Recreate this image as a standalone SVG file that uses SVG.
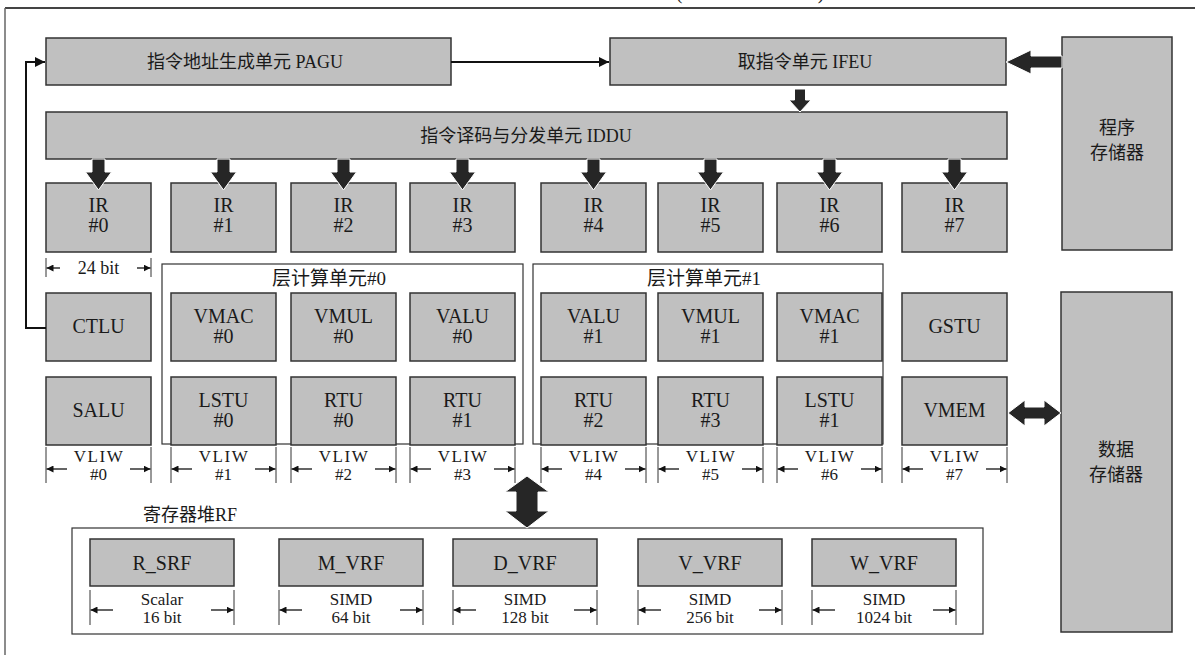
<svg xmlns="http://www.w3.org/2000/svg" width="1195" height="655" viewBox="0 0 1195 655">
<style>
text{font-family:"Liberation Serif","Noto Sans CJK SC",serif;fill:#1a1a1a;text-anchor:middle}
.box{fill:#c0c0c0;stroke:#333;stroke-width:1.5}
.frame{fill:none;stroke:#333;stroke-width:1.2}
.lbl{font-size:20px}
.zh{font-size:18px}
.dim{font-size:17px}
.vl{font-size:17px;letter-spacing:1.5px}
.tick{stroke:#333;stroke-width:1}
.da{stroke:#111;stroke-width:1.3;fill:none;marker-end:url(#dh)}
.conn{stroke:#111;stroke-width:2;fill:none}
.thick{fill:#262626;stroke:#fff;stroke-width:1}
</style>
<defs>
<marker id="dh" viewBox="0 0 10 10" refX="10" refY="5" markerWidth="7" markerHeight="7" markerUnits="userSpaceOnUse" orient="auto"><path d="M0,0 L10,5 L0,10 Z" fill="#111"/></marker>
<marker id="ah" viewBox="0 0 10 10" refX="10" refY="5" markerWidth="10" markerHeight="11" markerUnits="userSpaceOnUse" orient="auto"><path d="M0,0 L10,5 L0,10 Z" fill="#111"/></marker>
<path id="down" d="M-6.5,0 H6.5 V13 H13 L0,31 L-13,13 H-6.5 Z"/>
</defs>

<!-- outer frame -->
<g id="page">
<line x1="5" y1="8" x2="1195" y2="8" stroke="#444" stroke-width="2"/>
<line x1="5" y1="8" x2="5" y2="655" stroke="#666" stroke-width="1.5"/>
<text x="679" y="-1" style="font-size:20px">(</text>
<text x="821" y="-1" style="font-size:20px">)</text>
</g>

<g id="PAGU"><rect class="box" x="46" y="38" width="405" height="47"/><text class="zh" x="245" y="68">指令地址生成单元 PAGU</text></g>
<g id="IFEU"><rect class="box" x="610" y="38" width="396" height="47"/><text class="zh" x="805" y="68">取指令单元 IFEU</text></g>
<g id="IDDU"><rect class="box" x="46" y="112" width="961" height="47"/><text class="zh" x="526" y="142">指令译码与分发单元 IDDU</text></g>
<g id="PM"><rect class="box" x="1062" y="37" width="110" height="213"/><text class="zh" x="1117" y="134">程序</text><text class="zh" x="1117" y="159">存储器</text></g>
<g id="DM"><rect class="box" x="1061" y="292" width="111" height="340"/><text class="zh" x="1116" y="456">数据</text><text class="zh" x="1116" y="481">存储器</text></g>

<!-- IR row -->
<g id="IR0"><rect class="box" x="46" y="183" width="105" height="69"/><text class="lbl" x="98.5" y="212">IR</text><text class="lbl" x="98.5" y="232">#0</text></g>
<g id="IR1"><rect class="box" x="171" y="183" width="105" height="69"/><text class="lbl" x="223.5" y="212">IR</text><text class="lbl" x="223.5" y="232">#1</text></g>
<g id="IR2"><rect class="box" x="291" y="183" width="105" height="69"/><text class="lbl" x="343.5" y="212">IR</text><text class="lbl" x="343.5" y="232">#2</text></g>
<g id="IR3"><rect class="box" x="410" y="183" width="105" height="69"/><text class="lbl" x="462.5" y="212">IR</text><text class="lbl" x="462.5" y="232">#3</text></g>
<g id="IR4"><rect class="box" x="541" y="183" width="105" height="69"/><text class="lbl" x="593.5" y="212">IR</text><text class="lbl" x="593.5" y="232">#4</text></g>
<g id="IR5"><rect class="box" x="658" y="183" width="105" height="69"/><text class="lbl" x="710.5" y="212">IR</text><text class="lbl" x="710.5" y="232">#5</text></g>
<g id="IR6"><rect class="box" x="777" y="183" width="105" height="69"/><text class="lbl" x="829.5" y="212">IR</text><text class="lbl" x="829.5" y="232">#6</text></g>
<g id="IR7"><rect class="box" x="902" y="183" width="105" height="69"/><text class="lbl" x="954.5" y="212">IR</text><text class="lbl" x="954.5" y="232">#7</text></g>

<!-- layer frames -->
<g id="layer0"><rect class="frame" x="162" y="264" width="361" height="180"/><text class="zh" style="font-size:19px" x="329" y="285">层计算单元#0</text></g>
<g id="layer1"><rect class="frame" x="533" y="264" width="350" height="180"/><text class="zh" style="font-size:19px" x="704" y="285">层计算单元#1</text></g>

<!-- row 1 -->
<g id="CTLU"><rect class="box" x="46" y="293" width="105" height="68"/><text class="lbl" x="98.5" y="333">CTLU</text></g>
<g id="VMAC0"><rect class="box" x="171" y="293" width="105" height="68"/><text class="lbl" x="223.5" y="323">VMAC</text><text class="lbl" x="223.5" y="343">#0</text></g>
<g id="VMUL0"><rect class="box" x="291" y="293" width="105" height="68"/><text class="lbl" x="343.5" y="323">VMUL</text><text class="lbl" x="343.5" y="343">#0</text></g>
<g id="VALU0"><rect class="box" x="410" y="293" width="105" height="68"/><text class="lbl" x="462.5" y="323">VALU</text><text class="lbl" x="462.5" y="343">#0</text></g>
<g id="VALU1"><rect class="box" x="541" y="293" width="105" height="68"/><text class="lbl" x="593.5" y="323">VALU</text><text class="lbl" x="593.5" y="343">#1</text></g>
<g id="VMUL1"><rect class="box" x="658" y="293" width="105" height="68"/><text class="lbl" x="710.5" y="323">VMUL</text><text class="lbl" x="710.5" y="343">#1</text></g>
<g id="VMAC1"><rect class="box" x="777" y="293" width="105" height="68"/><text class="lbl" x="829.5" y="323">VMAC</text><text class="lbl" x="829.5" y="343">#1</text></g>
<g id="GSTU"><rect class="box" x="902" y="293" width="105" height="68"/><text class="lbl" x="954.5" y="333">GSTU</text></g>

<!-- row 2 -->
<g id="SALU"><rect class="box" x="46" y="377" width="105" height="68"/><text class="lbl" x="98.5" y="417">SALU</text></g>
<g id="LSTU0"><rect class="box" x="171" y="377" width="105" height="68"/><text class="lbl" x="223.5" y="407">LSTU</text><text class="lbl" x="223.5" y="427">#0</text></g>
<g id="RTU0"><rect class="box" x="291" y="377" width="105" height="68"/><text class="lbl" x="343.5" y="407">RTU</text><text class="lbl" x="343.5" y="427">#0</text></g>
<g id="RTU1"><rect class="box" x="410" y="377" width="105" height="68"/><text class="lbl" x="462.5" y="407">RTU</text><text class="lbl" x="462.5" y="427">#1</text></g>
<g id="RTU2"><rect class="box" x="541" y="377" width="105" height="68"/><text class="lbl" x="593.5" y="407">RTU</text><text class="lbl" x="593.5" y="427">#2</text></g>
<g id="RTU3"><rect class="box" x="658" y="377" width="105" height="68"/><text class="lbl" x="710.5" y="407">RTU</text><text class="lbl" x="710.5" y="427">#3</text></g>
<g id="LSTU1"><rect class="box" x="777" y="377" width="105" height="68"/><text class="lbl" x="829.5" y="407">LSTU</text><text class="lbl" x="829.5" y="427">#1</text></g>
<g id="VMEM"><rect class="box" x="902" y="377" width="105" height="68"/><text class="lbl" x="954.5" y="417">VMEM</text></g>

<!-- dimension annotations -->
<g id="dims">
<g id="dim24">
<line class="tick" x1="46" y1="258" x2="46" y2="277"/><line class="tick" x1="151" y1="258" x2="151" y2="277"/>
<line class="da" x1="60" y1="268" x2="46.5" y2="268"/><line class="da" x1="137" y1="268" x2="150.5" y2="268"/>
<text style="font-size:18px" x="98.5" y="274">24 bit</text>
</g>
<g id="vliw">
<path class="tick" d="M46,447V483M151,447V483M171,447V483M276,447V483M291,447V483M396,447V483M410,447V483M515,447V483M541,447V483M646,447V483M658,447V483M763,447V483M777,447V483M882,447V483M902,447V483M1007,447V483"/>
<line class="da" x1="67" y1="469" x2="46.5" y2="469"/><line class="da" x1="130" y1="469" x2="150.5" y2="469"/>
<line class="da" x1="192" y1="469" x2="171.5" y2="469"/><line class="da" x1="255" y1="469" x2="275.5" y2="469"/>
<line class="da" x1="312" y1="469" x2="291.5" y2="469"/><line class="da" x1="375" y1="469" x2="395.5" y2="469"/>
<line class="da" x1="431" y1="469" x2="410.5" y2="469"/><line class="da" x1="494" y1="469" x2="514.5" y2="469"/>
<line class="da" x1="562" y1="469" x2="541.5" y2="469"/><line class="da" x1="625" y1="469" x2="645.5" y2="469"/>
<line class="da" x1="679" y1="469" x2="658.5" y2="469"/><line class="da" x1="742" y1="469" x2="762.5" y2="469"/>
<line class="da" x1="798" y1="469" x2="777.5" y2="469"/><line class="da" x1="861" y1="469" x2="881.5" y2="469"/>
<line class="da" x1="923" y1="469" x2="902.5" y2="469"/><line class="da" x1="986" y1="469" x2="1006.5" y2="469"/>
<text class="vl" x="99" y="462">VLIW</text><text class="dim" x="98.5" y="480">#0</text>
<text class="vl" x="224" y="462">VLIW</text><text class="dim" x="223.5" y="480">#1</text>
<text class="vl" x="344" y="462">VLIW</text><text class="dim" x="343.5" y="480">#2</text>
<text class="vl" x="463" y="462">VLIW</text><text class="dim" x="462.5" y="480">#3</text>
<text class="vl" x="594" y="462">VLIW</text><text class="dim" x="593.5" y="480">#4</text>
<text class="vl" x="711" y="462">VLIW</text><text class="dim" x="710.5" y="480">#5</text>
<text class="vl" x="830" y="462">VLIW</text><text class="dim" x="829.5" y="480">#6</text>
<text class="vl" x="955" y="462">VLIW</text><text class="dim" x="954.5" y="480">#7</text>
</g>
</g>

<!-- register file -->
<g id="RF">
<rect class="frame" x="72" y="528" width="911" height="106"/>
<text class="zh" x="190" y="521">寄存器堆RF</text>
</g>
<g id="R_SRF"><rect class="box" x="90" y="539" width="144" height="47"/><text class="lbl" x="162" y="570">R_SRF</text></g>
<g id="M_VRF"><rect class="box" x="279" y="539" width="144" height="47"/><text class="lbl" x="351" y="570">M_VRF</text></g>
<g id="D_VRF"><rect class="box" x="453" y="539" width="144" height="47"/><text class="lbl" x="525" y="570">D_VRF</text></g>
<g id="V_VRF"><rect class="box" x="638" y="539" width="144" height="47"/><text class="lbl" x="710" y="570">V_VRF</text></g>
<g id="W_VRF"><rect class="box" x="812" y="539" width="144" height="47"/><text class="lbl" x="884" y="570">W_VRF</text></g>
<g id="rfdims">
<path class="tick" d="M90,590V625M234,590V625M279,590V625M423,590V625M453,590V625M597,590V625M638,590V625M782,590V625M812,590V625M956,590V625"/>
<line class="da" x1="113" y1="610" x2="90.5" y2="610"/><line class="da" x1="211" y1="610" x2="233.5" y2="610"/>
<line class="da" x1="302" y1="610" x2="279.5" y2="610"/><line class="da" x1="400" y1="610" x2="422.5" y2="610"/>
<line class="da" x1="476" y1="610" x2="453.5" y2="610"/><line class="da" x1="574" y1="610" x2="596.5" y2="610"/>
<line class="da" x1="661" y1="610" x2="638.5" y2="610"/><line class="da" x1="759" y1="610" x2="781.5" y2="610"/>
<line class="da" x1="835" y1="610" x2="812.5" y2="610"/><line class="da" x1="933" y1="610" x2="955.5" y2="610"/>
<text class="dim" x="162" y="605">Scalar</text><text class="dim" x="162" y="623">16 bit</text>
<text class="dim" x="351" y="605">SIMD</text><text class="dim" x="351" y="623">64 bit</text>
<text class="dim" x="525" y="605">SIMD</text><text class="dim" x="525" y="623">128 bit</text>
<text class="dim" x="710" y="605">SIMD</text><text class="dim" x="710" y="623">256 bit</text>
<text class="dim" x="884" y="605">SIMD</text><text class="dim" x="884" y="623">1024 bit</text>
</g>

<!-- connectors -->
<g id="connectors">
<line class="conn" x1="451" y1="62" x2="609" y2="62" marker-end="url(#ah)"/>
<path class="conn" d="M46,328 H26 V62 H45" marker-end="url(#ah)"/>
<polygon class="thick" points="1062,56 1031,56 1031,50 1006,62 1031,74 1031,68 1062,68"/>
<path class="thick" d="M794.5,89 H805.5 V100 H811 L800,112 L789,100 H794.5 Z"/>
<use href="#down" class="thick" x="98.5" y="159"/>
<use href="#down" class="thick" x="223.5" y="159"/>
<use href="#down" class="thick" x="343.5" y="159"/>
<use href="#down" class="thick" x="462.5" y="159"/>
<use href="#down" class="thick" x="593.5" y="159"/>
<use href="#down" class="thick" x="710.5" y="159"/>
<use href="#down" class="thick" x="829.5" y="159"/>
<use href="#down" class="thick" x="954.5" y="159"/>
<polygon class="thick" points="1008,413 1025,400 1025,407 1044,407 1044,400 1061,413 1044,426 1044,419 1025,419 1025,426"/>
<polygon class="thick" points="527,476 549,492 538,492 538,511 549,511 527,528 505,511 516,511 516,492 505,492"/>
</g>
</svg>
